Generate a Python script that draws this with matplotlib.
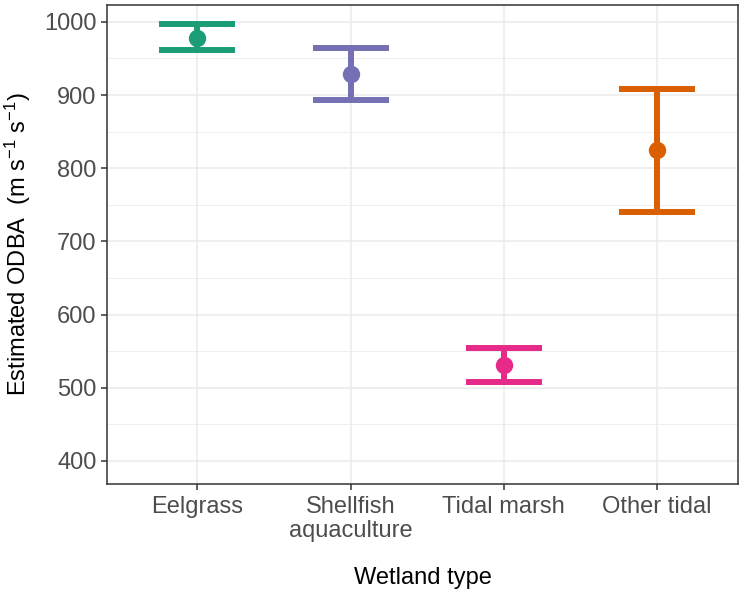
import matplotlib
matplotlib.use("Agg")
import matplotlib.pyplot as plt
from matplotlib.ticker import MultipleLocator

plt.rcParams["font.family"] = ["Liberation Sans", "DejaVu Sans"]
plt.rcParams["mathtext.fontset"] = "custom"
plt.rcParams["mathtext.rm"] = "Liberation Sans"
plt.rcParams["mathtext.it"] = "Liberation Sans"

# data
wetland_types = ["Eelgrass", "Shellfish\naquaculture", "Tidal marsh", "Other tidal"]
odba_mean = [978, 929, 531, 825]
odba_lower = [961, 893, 508, 740]
odba_upper = [997, 964, 554, 908]
colors = ["#1B9E77", "#7570B3", "#E7298A", "#D95F02"]

fig = plt.figure(figsize=(7.5, 5.96), dpi=100)
ax = fig.add_axes([0.1427, 0.188, 0.8413, 0.8036])

for i, name in enumerate(wetland_types):
    x = i + 1
    ax.errorbar(x, odba_mean[i],
                yerr=[[odba_mean[i] - odba_lower[i]], [odba_upper[i] - odba_mean[i]]],
                fmt="o", color=colors[i], ecolor=colors[i], markersize=11.5,
                elinewidth=4.3, capsize=27.5, capthick=4.3, zorder=3)

ax.set_xlim(0.41, 4.53)
ax.set_ylim(368.5, 1023)
ax.set_xticks(range(1, len(wetland_types) + 1))
ax.set_xticklabels(wetland_types, linespacing=1.1)
ax.yaxis.set_major_locator(MultipleLocator(100))
ax.yaxis.set_minor_locator(MultipleLocator(50))

ax.grid(which="major", color="#EBEBEB", linewidth=1.1, zorder=0)
ax.grid(which="minor", axis="y", color="#EBEBEB", linewidth=0.6, zorder=0)
ax.set_axisbelow(True)

for s in ax.spines.values():
    s.set_color("#333333")
    s.set_linewidth(1.1)

ax.tick_params(axis="both", which="major", colors="#333333", labelcolor="#4D4D4D",
               labelsize=17, length=4, width=1.1)
ax.tick_params(axis="y", which="minor", length=0)
ax.tick_params(axis="x", pad=5)

ax.set_ylabel(r"Estimated ODBA  (m s$^{-1}$ s$^{-1}$)", fontsize=17, labelpad=8)
ax.set_xlabel("Wetland type", fontsize=17, labelpad=18)

fig.savefig("out.png", dpi=100)
